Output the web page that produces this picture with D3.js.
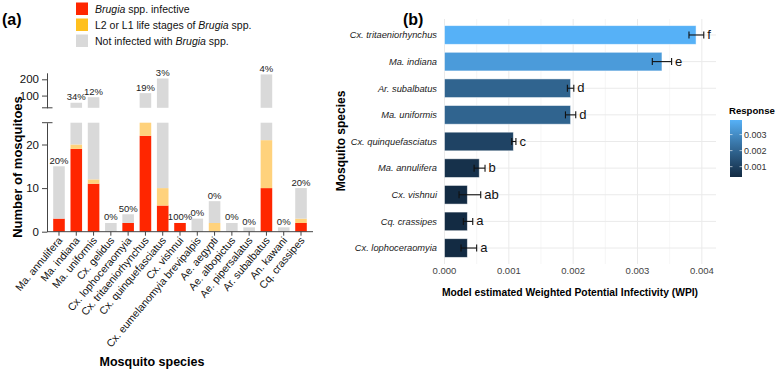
<!DOCTYPE html>
<html><head><meta charset="utf-8">
<script src="https://cdn.jsdelivr.net/npm/d3@7"></script>
<style>body{margin:0;background:#fff}svg{display:block;font-family:"Liberation Sans",Arial,Helvetica,sans-serif}</style>
</head><body><svg id="c" width="778" height="370"></svg>
<script>
// ---------- Panel (a) data ----------
const speciesA = ["Ma. annulifera","Ma. indiana","Ma. uniformis","Cx. gelidus","Cx. lophoceraomyia","Cx. tritaeniorhynchus","Cx. quinquefasciatus","Cx. vishnui","Cx. eumelanomyia brevipalpis","Ae. aegypti","Ae. albopictus","Ae. pipersalatus","Ar. subalbatus","An. kawani","Cq. crassipes"];
const infective = [3,19,11,0,2,22,6,2,0,0,0,0,10,0,2];
const larval    = [0,1,1,0,0,3,4,0,0,2,0,0,11,0,1];
const totals    = [15,56,90,2,4,115,205,2,3,7,2,1,230,1,10];
const pctLabels = ["20%","34%","12%","0%","50%","19%","3%","100%","0%","0%","0%","0%","4%","0%","20%"];
const lowTicks = [0,10,20];
const highTicks = [100,200];
const legendA = ["infective","larval","none"];

// ---------- Panel (b) data ----------
const speciesB = ["Cx. tritaeniorhynchus","Ma. indiana","Ar. subalbatus","Ma. uniformis","Cx. quinquefasciatus","Ma. annulifera","Cx. vishnui","Cq. crassipes","Cx. lophoceraomyia"];
const wpi   = [0.00391,0.00338,0.00196,0.00196,0.00107,0.00054,0.000355,0.000355,0.000355];
const wpiLo = [0.00380,0.00323,0.00191,0.00188,0.001045,0.00046,0.000226,0.000293,0.000257];
const wpiHi = [0.00403,0.00353,0.00201,0.00204,0.00111,0.00063,0.000563,0.000439,0.0005];
const groups = ["f","e","d","d","c","b","ab","a","a"];
const xTicksB = [0,0.001,0.002,0.003,0.004];
const xMinorB = [0.0005,0.0015,0.0025,0.0035];
const legendTicks = [0.001,0.002,0.003];

const svg = d3.select("#c");
const RED="#FF2600", ORA="#FFD27C", ORA_L="#FFC01E", GRY="#D9D9D9", AX="#444";

// ================= Panel (a) =================
const gA = svg.append("g");
gA.append("text").attr("x",2).attr("y",25).attr("font-size",16).attr("font-weight","bold").text("(a)");

// legend
const legCols=[RED,ORA_L,GRY];
const legTexts=[[["Brugia",true],[" spp. infective",false]],[["L2 or L1 life stages of ",false],["Brugia",true],[" spp.",false]],[["Not infected with ",false],["Brugia",true],[" spp.",false]]];
legendA.forEach((k,i)=>{
  gA.append("rect").attr("x",76).attr("y",2.5+i*16).attr("width",12).attr("height",12.5).attr("fill",legCols[i]);
  const t=gA.append("text").attr("x",95).attr("y",13+i*16).attr("font-size",10.5).attr("fill","#111");
  legTexts[i].forEach(([s,it])=>t.append("tspan").attr("font-style",it?"italic":"normal").text(s));
});

const x = d3.scaleBand().domain(speciesA).range([50.35,309.65]).paddingInner(0.33).paddingOuter(0.165);
const yLo = d3.scaleLinear().domain([0,25]).range([231.7,122.7]);
const yHi = d3.scaleLinear().domain([25,240]).range([107.8,72.8]);

const bw = x.bandwidth();
speciesA.forEach((s,i)=>{
  const a=infective[i], b=larval[i], t=totals[i];
  const segs=[[0,a,RED],[a,a+b,ORA],[a+b,t,GRY]];
  segs.forEach(([s0,s1,c])=>{
    if(s1<=s0) return;
    if(s0<25){ const e=Math.min(s1,25); gA.append("rect").attr("x",x(s)).attr("width",bw).attr("y",yLo(e)).attr("height",yLo(s0)-yLo(e)).attr("fill",c); }
    if(s1>25){ const b0=Math.max(s0,25); gA.append("rect").attr("x",x(s)).attr("width",bw).attr("y",yHi(s1)).attr("height",yHi(b0)-yHi(s1)).attr("fill",c); }
  });
  const ty = t>25 ? yHi(t) : yLo(t);
  gA.append("text").attr("x",x(s)+bw/2).attr("y",ty-2.5).attr("text-anchor","middle").attr("font-size",9.5).attr("fill","#222").text(pctLabels[i]);
});

// y axes
const axL = d3.axisLeft(yLo).tickValues(lowTicks).tickSize(5).tickSizeOuter(0);
const axH = d3.axisLeft(yHi).tickValues(highTicks).tickSize(5).tickSizeOuter(0);
[ [axL], [axH] ].forEach(([ax])=>{
  const g=gA.append("g").attr("transform","translate(47,0)").call(ax);
  g.selectAll("path,line").attr("stroke",AX).attr("stroke-width",1);
  g.selectAll("text").attr("font-size",11.5).attr("fill","#111").attr("font-family","Liberation Sans, Arial, sans-serif");
});
// break caps
gA.append("line").attr("x1",42).attr("x2",52.5).attr("y1",yHi(25)).attr("y2",yHi(25)).attr("stroke",AX);
gA.append("line").attr("x1",42).attr("x2",52.5).attr("y1",yLo(25)).attr("y2",yLo(25)).attr("stroke",AX);
// x axis
gA.append("line").attr("x1",47).attr("x2",313).attr("y1",yLo(0)).attr("y2",yLo(0)).attr("stroke",AX);
speciesA.forEach(s=>{
  const cx=x(s)+bw/2;
  gA.append("line").attr("x1",cx).attr("x2",cx).attr("y1",yLo(0)).attr("y2",yLo(0)+4).attr("stroke",AX);
  gA.append("text").attr("transform",`translate(${cx+4},${yLo(0)+9}) rotate(-50)`).attr("text-anchor","end").attr("font-size",10.5).attr("fill","#111").text(s);
});
gA.append("text").attr("transform","translate(22,167) rotate(-90)").attr("text-anchor","middle").attr("font-size",13).attr("font-weight","bold").text("Number of mosquitoes");
gA.append("text").attr("x",152).attr("y",366).attr("text-anchor","middle").attr("font-size",12.5).attr("font-weight","bold").text("Mosquito species");

// ================= Panel (b) =================
const gB = svg.append("g");
gB.append("text").attr("x",403).attr("y",25).attr("font-size",16).attr("font-weight","bold").text("(b)");

const xB = d3.scaleLinear().domain([0,0.00422]).range([444.5,716]);
const yB = d3.scaleBand().domain(speciesB).range([19,264]).paddingInner(0.3).paddingOuter(0.25);
const col = d3.scaleLinear().domain([d3.min(wpi),d3.max(wpi)]).range(["#132B43","#56B1F7"]).interpolate(d3.interpolateLab);

// grid
xMinorB.forEach(v=>gB.append("line").attr("x1",xB(v)).attr("x2",xB(v)).attr("y1",19).attr("y2",264).attr("stroke","#F0F0F0").attr("stroke-width",0.6));
xTicksB.forEach(v=>gB.append("line").attr("x1",xB(v)).attr("x2",xB(v)).attr("y1",19).attr("y2",264).attr("stroke","#EAEAEA").attr("stroke-width",1));
speciesB.forEach(s=>{const cy=yB(s)+yB.bandwidth()/2; gB.append("line").attr("x1",444.5).attr("x2",716).attr("y1",cy).attr("y2",cy).attr("stroke","#EAEAEA").attr("stroke-width",1);});

speciesB.forEach((s,i)=>{
  const y0=yB(s), h=yB.bandwidth(), cy=y0+h/2;
  gB.append("rect").attr("x",xB(0)).attr("y",y0).attr("width",xB(wpi[i])-xB(0)).attr("height",h).attr("fill",col(wpi[i])).attr("stroke","#ffffff").attr("stroke-opacity",0.6).attr("stroke-width",0.8);
  gB.append("line").attr("x1",xB(wpiLo[i])).attr("x2",xB(wpiHi[i])).attr("y1",cy).attr("y2",cy).attr("stroke","#111").attr("stroke-width",1.1);
  [wpiLo[i],wpiHi[i]].forEach(v=>gB.append("line").attr("x1",xB(v)).attr("x2",xB(v)).attr("y1",cy-3.5).attr("y2",cy+3.5).attr("stroke","#111").attr("stroke-width",1.1));
  gB.append("text").attr("x",xB(wpiHi[i])+3.5).attr("y",cy+4).attr("font-size",13).attr("fill","#111").text(groups[i]);
  gB.append("text").attr("x",437).attr("y",cy+3.3).attr("text-anchor","end").attr("font-size",9.3).attr("font-style","italic").attr("fill","#222").text(s);
});
xTicksB.forEach(v=>gB.append("text").attr("x",xB(v)).attr("y",274).attr("text-anchor","middle").attr("font-size",9.5).attr("fill","#444").text(d3.format(".3f")(v)));
gB.append("text").attr("x",570).attr("y",296).attr("text-anchor","middle").attr("font-size",10.3).attr("font-weight","bold").text("Model estimated Weighted Potential Infectivity (WPI)");
gB.append("text").attr("transform","translate(345,141) rotate(-90)").attr("text-anchor","middle").attr("font-size",12).attr("font-weight","bold").text("Mosquito species");

// colour legend
const yC = d3.scaleLinear().domain([d3.min(wpi),d3.max(wpi)]).range([177,120]);
const defs = svg.append("defs");
const grad = defs.append("linearGradient").attr("id","gr").attr("x1",0).attr("x2",0).attr("y1",1).attr("y2",0);
d3.range(0,1.0001,0.1).forEach(t=>grad.append("stop").attr("offset",t).attr("stop-color",col(d3.min(wpi)+t*(d3.max(wpi)-d3.min(wpi)))));
gB.append("rect").attr("x",730).attr("y",120).attr("width",12).attr("height",57).attr("fill","url(#gr)");
legendTicks.forEach(v=>{
  gB.append("line").attr("x1",730).attr("x2",732.5).attr("y1",yC(v)).attr("y2",yC(v)).attr("stroke","#fff").attr("stroke-width",0.6);
  gB.append("line").attr("x1",739.5).attr("x2",742).attr("y1",yC(v)).attr("y2",yC(v)).attr("stroke","#fff").attr("stroke-width",0.6);
  gB.append("text").attr("x",744).attr("y",yC(v)+3.2).attr("font-size",9).attr("fill","#333").text(d3.format(".3f")(v));
});
gB.append("text").attr("x",729).attr("y",114).attr("font-size",9.6).attr("font-weight","bold").text("Response");
</script></body></html>
